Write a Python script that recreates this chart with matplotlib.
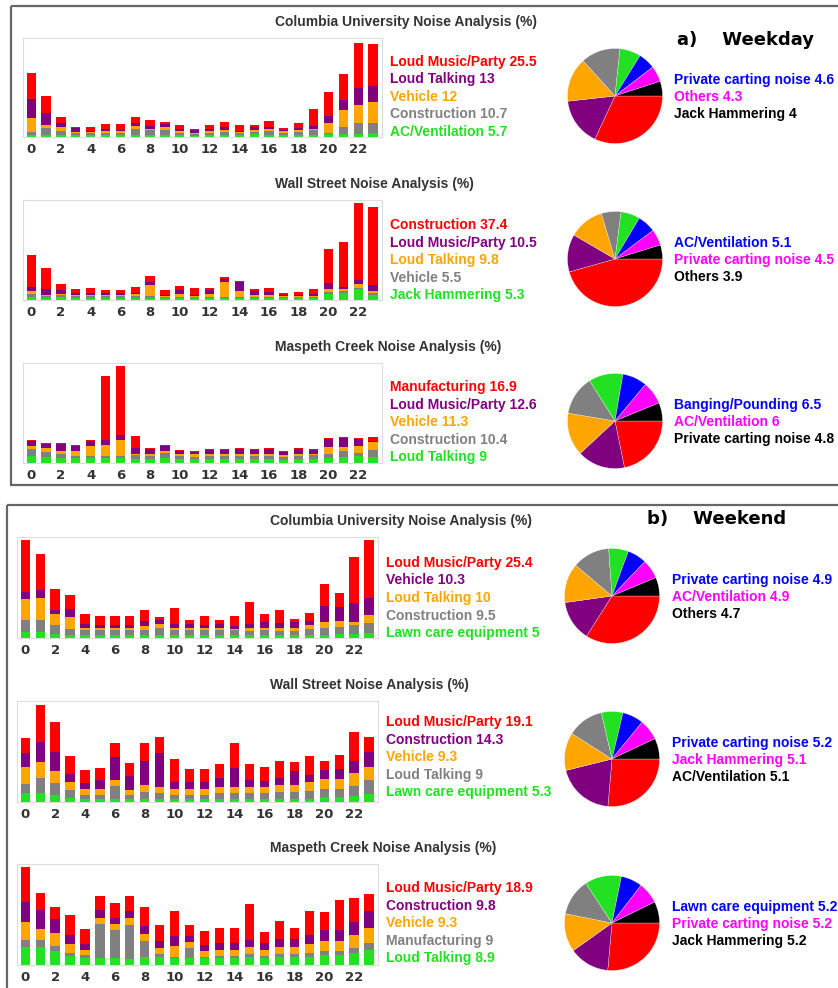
import matplotlib
matplotlib.use("Agg")
import matplotlib.pyplot as plt
from matplotlib.patches import Rectangle

W, H = 838, 988
DPI = 100

hours = list(range(24))

# ---------------- Weekday ----------------
wd_col_labels = ["Loud Music/Party", "Loud Talking", "Vehicle", "Construction", "AC/Ventilation"]
wd_col_values = [25.5, 13, 12, 10.7, 5.7]
wd_col_extra_labels = ["Private carting noise", "Others", "Jack Hammering"]
wd_col_extra_values = [4.6, 4.3, 4]
wd_col_red = [27, 17, 6, 1, 4, 5, 6, 6, 6, 2, 4, 1, 4, 5, 6, 2, 6, 2, 5, 17, 24, 27, 46, 42]
wd_col_purple = [19, 12, 4, 4, 1, 2, 1, 3, 3, 3, 2, 3, 2, 3, 1, 3, 2, 1, 2, 3, 7, 10, 17, 17]
wd_col_orange = [14, 3, 4, 1, 1, 2, 2, 3, 1, 3, 2, 1, 2, 2, 1, 2, 2, 2, 2, 1, 10, 17, 18, 21]
wd_col_gray = [3, 7, 4, 2, 2, 2, 2, 6, 5, 5, 2, 2, 2, 3, 2, 2, 4, 2, 3, 5, 1, 7, 11, 10]
wd_col_green = [2, 2, 2, 2, 2, 2, 2, 2, 2, 2, 2, 1, 2, 2, 2, 3, 2, 2, 2, 2, 3, 3, 3, 4]

wd_wall_labels = ["Construction", "Loud Music/Party", "Loud Talking", "Vehicle", "Jack Hammering"]
wd_wall_values = [37.4, 10.5, 9.8, 5.5, 5.3]
wd_wall_extra_labels = ["AC/Ventilation", "Private carting noise", "Others"]
wd_wall_extra_values = [5.1, 4.5, 3.9]
wd_wall_red = [32, 21, 6, 4, 5, 3, 3, 6, 6, 5, 4, 7, 2, 2, 1, 2, 4, 2, 3, 5, 34, 45, 77, 78]
wd_wall_purple = [4, 6, 4, 2, 2, 2, 2, 1, 3, 1, 4, 1, 4, 3, 9, 4, 3, 1, 1, 2, 6, 2, 4, 6]
wd_wall_orange = [3, 1, 1, 1, 1, 1, 1, 2, 11, 1, 3, 1, 3, 15, 6, 2, 2, 1, 1, 1, 3, 2, 4, 2]
wd_wall_gray = [3, 2, 2, 2, 2, 2, 2, 2, 2, 1, 1, 1, 1, 1, 1, 1, 1, 1, 1, 1, 2, 2, 1, 2]
wd_wall_green = [3, 2, 3, 2, 2, 2, 2, 2, 2, 2, 2, 2, 2, 2, 2, 2, 2, 2, 2, 2, 6, 7, 11, 5]

wd_mas_labels = ["Manufacturing", "Loud Music/Party", "Vehicle", "Construction", "Loud Talking"]
wd_mas_values = [16.9, 12.6, 11.3, 10.4, 9]
wd_mas_extra_labels = ["Banging/Pounding", "AC/Ventilation", "Private carting noise"]
wd_mas_extra_values = [6.5, 6, 4.8]
wd_mas_red = [1, 1, 1, 1, 1, 64, 69, 12, 1, 1, 1, 1, 1, 1, 1, 1, 1, 1, 1, 1, 1, 1, 1, 4]
wd_mas_purple = [5, 4, 7, 5, 5, 5, 5, 6, 5, 5, 3, 2, 4, 4, 5, 4, 5, 3, 5, 4, 8, 9, 7, 1]
wd_mas_orange = [3, 4, 3, 5, 10, 11, 16, 1, 2, 2, 2, 3, 2, 2, 2, 2, 2, 2, 2, 1, 7, 4, 7, 8]
wd_mas_gray = [7, 5, 4, 2, 2, 2, 2, 4, 3, 5, 3, 2, 3, 3, 3, 3, 3, 3, 3, 4, 4, 6, 3, 7]
wd_mas_green = [7, 6, 5, 5, 5, 5, 5, 4, 4, 5, 4, 4, 4, 4, 4, 4, 4, 3, 4, 4, 5, 6, 7, 6]

# ---------------- Weekend ----------------
we_col_labels = ["Loud Music/Party", "Vehicle", "Loud Talking", "Construction", "Lawn care equipment"]
we_col_values = [25.4, 10.3, 10, 9.5, 5]
we_col_extra_labels = ["Private carting noise", "AC/Ventilation", "Others"]
we_col_extra_values = [4.9, 4.9, 4.7]
we_col_red = [51, 35, 21, 14, 10, 9, 9, 9, 11, 3, 16, 4, 9, 4, 10, 22, 8, 13, 3, 8, 21, 14, 45, 57]
we_col_purple = [7, 8, 4, 8, 4, 3, 3, 3, 5, 4, 4, 4, 3, 4, 3, 4, 6, 5, 6, 4, 16, 14, 19, 17]
we_col_orange = [21, 22, 11, 12, 2, 2, 2, 2, 4, 4, 2, 2, 2, 2, 1, 3, 2, 3, 3, 4, 6, 6, 3, 8]
we_col_gray = [12, 12, 9, 6, 5, 5, 5, 5, 5, 7, 5, 5, 5, 5, 5, 4, 5, 4, 4, 6, 7, 7, 9, 10]
we_col_green = [6, 6, 4, 3, 3, 3, 3, 3, 3, 3, 3, 3, 3, 3, 3, 3, 3, 3, 3, 3, 3, 4, 4, 5]

we_wall_labels = ["Loud Music/Party", "Construction", "Vehicle", "Loud Talking", "Lawn care equipment"]
we_wall_values = [19.1, 14.3, 9.3, 9, 5.3]
we_wall_extra_labels = ["Private carting noise", "Jack Hammering", "AC/Ventilation"]
we_wall_extra_values = [5.2, 5.1, 5.1]
we_wall_red = [14, 37, 29, 18, 13, 12, 13, 13, 17, 15, 23, 13, 13, 14, 24, 16, 14, 17, 9, 19, 9, 14, 28, 14]
we_wall_purple = [14, 19, 19, 8, 6, 9, 23, 14, 24, 34, 7, 7, 7, 9, 19, 7, 6, 7, 14, 7, 9, 10, 12, 15]
we_wall_orange = [17, 16, 12, 8, 6, 6, 6, 5, 7, 6, 6, 6, 6, 6, 6, 6, 6, 7, 7, 9, 10, 10, 13, 13]
we_wall_gray = [9, 15, 12, 8, 4, 4, 13, 4, 7, 6, 4, 4, 4, 6, 6, 6, 6, 7, 7, 8, 8, 8, 10, 14]
we_wall_green = [9, 9, 7, 4, 3, 3, 3, 3, 3, 3, 3, 3, 3, 3, 3, 3, 3, 3, 3, 3, 5, 5, 6, 8]

we_mas_labels = ["Loud Music/Party", "Construction", "Vehicle", "Manufacturing", "Loud Talking"]
we_mas_values = [18.9, 9.8, 9.3, 9, 8.9]
we_mas_extra_labels = ["Lawn care equipment", "Private carting noise", "Jack Hammering"]
we_mas_extra_values = [5.2, 5.2, 5.2]
we_mas_red = [35, 17, 11, 20, 15, 14, 14, 15, 18, 16, 24, 11, 14, 15, 15, 35, 11, 18, 11, 23, 17, 29, 23, 17]
we_mas_purple = [19, 18, 14, 9, 6, 7, 6, 6, 8, 7, 10, 6, 6, 7, 7, 7, 7, 8, 8, 9, 11, 11, 13, 16]
we_mas_orange = [18, 11, 13, 9, 5, 6, 6, 7, 7, 6, 11, 6, 6, 6, 6, 7, 6, 7, 7, 9, 10, 10, 13, 15]
we_mas_gray = [7, 7, 5, 3, 3, 34, 28, 34, 16, 3, 1, 10, 1, 2, 2, 3, 2, 3, 3, 4, 4, 4, 5, 7]
we_mas_green = [18, 18, 14, 9, 7, 7, 7, 6, 8, 8, 7, 7, 7, 7, 7, 8, 7, 8, 8, 8, 10, 10, 12, 15]

titles = ["Columbia University Noise Analysis (%)", "Wall Street Noise Analysis (%)",
          "Maspeth Creek Noise Analysis (%)"]

C_RED, C_PUR, C_ORA, C_GRY, C_GRN = "#ff0000", "#800080", "#ffa500", "#808080", "#22e022"
C_BLU, C_MAG, C_BLK = "#0000ff", "#ff00ff", "#000000"
top5_colors = [C_RED, C_PUR, C_ORA, C_GRY, C_GRN]
extra_colors = [C_BLU, C_MAG, C_BLK]

fig = plt.figure(figsize=(W / DPI, H / DPI), dpi=DPI)
fig.patch.set_facecolor("white")


def px_axes(x0, y0, x1, y1):
    return fig.add_axes([x0 / W, 1 - y1 / H, (x1 - x0) / W, (y1 - y0) / H])


def ftext(x, y, s, **kw):
    fig.text(x / W, 1 - y / H, s, va="center", **kw)


# panel frames
border = fig.add_axes([0, 0, 1, 1], zorder=-5)
border.set_xlim(0, W)
border.set_ylim(H, 0)
border.axis("off")
border.add_patch(Rectangle((11, 6), 900, 479, fill=False, edgecolor="#666666", lw=1.6))
border.add_patch(Rectangle((7, 505), 900, 600, fill=False, edgecolor="#666666", lw=1.6))

panels = [
    ([wd_col_red, wd_col_purple, wd_col_orange, wd_col_gray, wd_col_green], wd_col_labels, wd_col_values,
     wd_col_extra_labels, wd_col_extra_values, titles[0],
     dict(tx=275, ty=22, ax=(23, 38, 382, 137), lx=390, ly=62, pc=(615, 96), ex=674, ey=80)),
    ([wd_wall_red, wd_wall_purple, wd_wall_orange, wd_wall_gray, wd_wall_green], wd_wall_labels, wd_wall_values,
     wd_wall_extra_labels, wd_wall_extra_values, titles[1],
     dict(tx=275, ty=184, ax=(23, 200, 382, 300), lx=390, ly=225, pc=(615, 259), ex=674, ey=243)),
    ([wd_mas_red, wd_mas_purple, wd_mas_orange, wd_mas_gray, wd_mas_green], wd_mas_labels, wd_mas_values,
     wd_mas_extra_labels, wd_mas_extra_values, titles[2],
     dict(tx=275, ty=347, ax=(23, 363, 382, 463), lx=390, ly=387, pc=(615, 421), ex=674, ey=405)),
    ([we_col_red, we_col_purple, we_col_orange, we_col_gray, we_col_green], we_col_labels, we_col_values,
     we_col_extra_labels, we_col_extra_values, titles[0],
     dict(tx=270, ty=521, ax=(17, 537, 378, 638), lx=386, ly=563, pc=(612, 596), ex=672, ey=580)),
    ([we_wall_red, we_wall_purple, we_wall_orange, we_wall_gray, we_wall_green], we_wall_labels, we_wall_values,
     we_wall_extra_labels, we_wall_extra_values, titles[1],
     dict(tx=270, ty=685, ax=(17, 701, 378, 802), lx=386, ly=722, pc=(612, 759), ex=672, ey=743)),
    ([we_mas_red, we_mas_purple, we_mas_orange, we_mas_gray, we_mas_green], we_mas_labels, we_mas_values,
     we_mas_extra_labels, we_mas_extra_values, titles[2],
     dict(tx=270, ty=848, ax=(17, 864, 378, 965), lx=386, ly=888, pc=(612, 923), ex=672, ey=907)),
]

TXT_FONT = ["Liberation Sans", "DejaVu Sans"]
for series, labels, values, elabels, evalues, title, L in panels:
    ftext(L["tx"], L["ty"], title, ha="left", fontsize=10, fontweight="bold",
          color="#333333", family=TXT_FONT)
    ax = px_axes(*L["ax"])
    bottom = [0] * 24
    for s, c in zip(reversed(series), reversed(top5_colors)):
        ax.bar(hours, s, bottom=bottom, width=0.62, color=c, linewidth=0)
        bottom = [b + v for b, v in zip(bottom, s)]
    ax.set_xlim(-0.55, 23.6)
    ax.set_ylim(0, 100)
    ax.set_yticks([])
    ax.set_xticks(hours[::2])
    ax.set_xticklabels([str(h) for h in hours[::2]], fontsize=9.5, fontweight="bold",
                       color="#333333", family=["DejaVu Sans"])
    ax.tick_params(axis="x", length=0, pad=4)
    for sp in ax.spines.values():
        sp.set_color("#dddddd")
        sp.set_linewidth(0.8)
    for i, (lab, v) in enumerate(zip(labels, values)):
        ftext(L["lx"], L["ly"] + i * 17.5, f"{lab} {v:g}", ha="left", fontsize=10,
              fontweight="bold", color=top5_colors[i], family=TXT_FONT)
    r = 48
    cx, cy = L["pc"]
    pax = px_axes(cx - r, cy - r, cx + r, cy + r)
    pax.pie(list(values) + list(evalues), colors=top5_colors + extra_colors, startangle=0,
            counterclock=False, radius=1, wedgeprops=dict(linewidth=0.2, edgecolor="white"))
    pax.set_xlim(-1.01, 1.01)
    pax.set_ylim(-1.01, 1.01)
    pax.set_aspect("equal")
    for i, (lab, v) in enumerate(zip(elabels, evalues)):
        ftext(L["ex"], L["ey"] + i * 17, f"{lab} {v:g}", ha="left", fontsize=10,
              fontweight="bold", color=extra_colors[i], family=TXT_FONT)

ftext(677, 40, "a)    Weekday", ha="left", fontsize=13, fontweight="bold", color="black",
      family=["DejaVu Sans"])
ftext(647, 519, "b)    Weekend", ha="left", fontsize=13, fontweight="bold", color="black",
      family=["DejaVu Sans"])

fig.savefig("out.png", dpi=DPI, facecolor="white")
